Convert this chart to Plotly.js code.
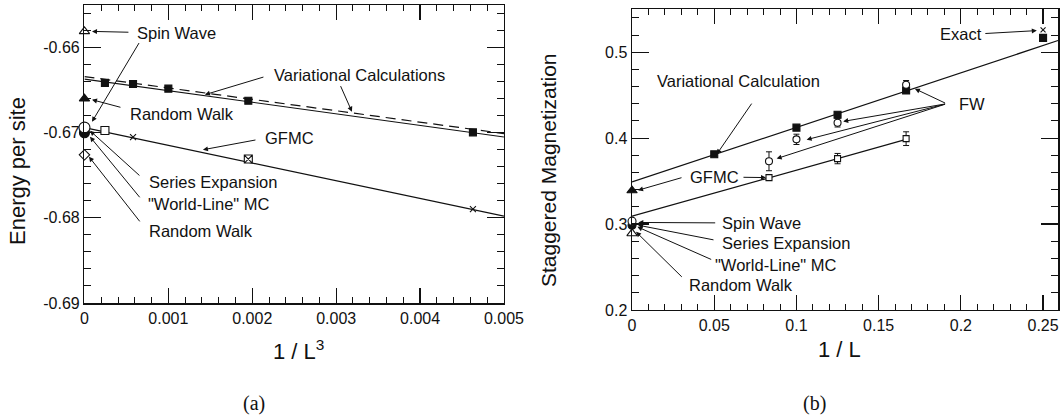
<!DOCTYPE html>
<html>
<head>
<meta charset="utf-8">
<script src="https://cdn.plot.ly/plotly-3.0.1.min.js"></script>
<style>html,body{margin:0;padding:0;background:#fff;}#chart{width:1061px;height:418px;}</style>
</head>
<body>
<div id="chart"></div>
<script>
// ---------- Panel (a): energy per site vs 1/L^3 ----------
const aVarX = [0.000244, 0.000579, 0.001, 0.001953, 0.00463];
const aVarY = [-0.66415, -0.66427, -0.66482, -0.66624, -0.66996];
const aVarFitX = [0, 0.005];
const aVarFitY = [-0.6637, -0.6705];
const aVarDashFitX = [0, 0.005];
const aVarDashFitY = [-0.6634, -0.6701];
const aGfmcFitX = [0, 0.005];
const aGfmcFitY = [-0.6694, -0.6798];
const aGfmcSqX = [0.000244];
const aGfmcSqY = [-0.66973];
const aGfmcCrossX = [0.000579, 0.00463];
const aGfmcCrossY = [-0.67051, -0.67898];
const aGfmcSqCrossX = [0.001953];
const aGfmcSqCrossY = [-0.67309];
const aSpinWave = -0.6581;
const aRandomWalkTri = -0.6660;
const aSeries = -0.6694;
const aWorldLine = -0.6700;
const aRandomWalkDia = -0.6726;
const aYTickAlias = {'−0.69': '-0.69', '−0.68': '-0.68', '−0.67': '-0.67', '−0.66': '-0.66'};

// ---------- Panel (b): staggered magnetization vs 1/L ----------
const bVarX = [0.05, 0.1, 0.125, 0.1667, 0.25];
const bVarY = [0.3812, 0.4122, 0.4273, 0.4555, 0.5167];
const bVarFitX = [0, 0.2591];
const bVarFitY = [0.349, 0.5136];
const bFwX = [0.0833, 0.1, 0.125, 0.1667];
const bFwY = [0.3731, 0.3986, 0.418, 0.4621];
const bFwErr = [0.011, 0.006, 0.005, 0.005];
const bGfmcX = [0.0833, 0.125, 0.1667];
const bGfmcY = [0.3541, 0.3762, 0.3994];
const bGfmcErr = [0.003, 0.006, 0.008];
const bGfmcFitX = [0, 0.1667];
const bGfmcFitY = [0.3092, 0.3985];
const bExactX = [0.25];
const bExactY = [0.526];
const bGfmcExtrap = 0.339;
const bSpinWave = 0.3034;
const bWorldLine = 0.2987;
const bRandomWalk = 0.2891;

const INK = '#111';
const FONT = 'Liberation Sans, Arial, Helvetica, sans-serif';

function line(x, y, xa, ya, dash) {
  return {x: x, y: y, xaxis: xa, yaxis: ya, type: 'scatter', mode: 'lines',
    line: {color: INK, width: 1.2, dash: dash || 'solid'}, hoverinfo: 'skip'};
}
function pts(x, y, xa, ya, symbol, size, fill, extra) {
  const t = {x: x, y: y, xaxis: xa, yaxis: ya, type: 'scatter', mode: 'markers', cliponaxis: false,
    marker: {symbol: symbol, size: size, color: fill, line: {color: INK, width: 1.1}}};
  return Object.assign(t, extra || {});
}
const W = '#ffffff';

const traces = [
  // empty traces that only carry the minor-tick overlay axes
  {x: [], y: [], xaxis: 'x3', yaxis: 'y3', type: 'scatter', mode: 'markers'},
  {x: [], y: [], xaxis: 'x4', yaxis: 'y4', type: 'scatter', mode: 'markers'},

  line(aVarFitX, aVarFitY, 'x', 'y'),
  line(aVarDashFitX, aVarDashFitY, 'x', 'y', '10px,6px'),
  line(aGfmcFitX, aGfmcFitY, 'x', 'y'),
  pts(aVarX, aVarY, 'x', 'y', 'square', 7, INK),
  pts(aGfmcSqX, aGfmcSqY, 'x', 'y', 'square', 8, W),
  pts(aGfmcCrossX, aGfmcCrossY, 'x', 'y', 'x-thin', 6, INK),
  pts(aGfmcSqCrossX, aGfmcSqCrossY, 'x', 'y', 'square-x', 8, W),
  pts([0], [aSpinWave], 'x', 'y', 'triangle-up', 9, W),
  pts([0], [aRandomWalkTri], 'x', 'y', 'triangle-up', 9, INK),
  pts([0], [aWorldLine], 'x', 'y', 'circle', 10, INK),
  pts([0], [aSeries], 'x', 'y', 'circle', 11, W),
  pts([0], [aRandomWalkDia], 'x', 'y', 'diamond', 8, W),

  line(bVarFitX, bVarFitY, 'x2', 'y2'),
  line(bGfmcFitX, bGfmcFitY, 'x2', 'y2'),
  pts(bVarX, bVarY, 'x2', 'y2', 'square', 7, INK),
  pts(bFwX, bFwY, 'x2', 'y2', 'circle', 7, W,
      {error_y: {type: 'data', array: bFwErr, visible: true, color: INK, thickness: 1, width: 3}}),
  pts(bGfmcX, bGfmcY, 'x2', 'y2', 'square', 6, W,
      {error_y: {type: 'data', array: bGfmcErr, visible: true, color: INK, thickness: 1, width: 3}}),
  pts(bExactX, bExactY, 'x2', 'y2', 'x-thin', 5, INK),
  pts([0], [bGfmcExtrap], 'x2', 'y2', 'triangle-up', 9, INK),
  pts([0], [bRandomWalk], 'x2', 'y2', 'triangle-up', 9, W),
  pts([0], [bWorldLine], 'x2', 'y2', 'circle', 8, INK),
  pts([0], [bSpinWave], 'x2', 'y2', 'circle', 8, W)
];

function axis(domain, range, tick0, dtick, major, anchor, alias) {
  const a = {
    domain: domain, range: range, anchor: anchor,
    tickmode: 'linear', tick0: tick0, dtick: dtick,
    ticks: 'inside', ticklen: major, tickwidth: 1.2, tickcolor: INK,
    showline: true, linecolor: INK, linewidth: 1.5, mirror: 'ticks',
    showgrid: false, zeroline: false, fixedrange: true,
    tickfont: {family: FONT, size: 16, color: INK}
  };
  if (alias) a.labelalias = alias;
  return a;
}
function minorAxis(over, anchor, domain, range, tick0, dtick, len) {
  return {
    overlaying: over, anchor: anchor, domain: domain, range: range,
    tickmode: 'linear', tick0: tick0, dtick: dtick,
    ticks: 'inside', ticklen: len, tickwidth: 1, tickcolor: INK,
    showticklabels: false, showline: true, linecolor: INK, linewidth: 1.5, mirror: 'ticks',
    showgrid: false, zeroline: false, fixedrange: true
  };
}

const aXDom = [0.0796, 0.4750], aYDom = [0.2751, 0.9880];
const bXDom = [0.5957, 0.9972], bYDom = [0.2584, 0.9778];
const aXRange = [0, 0.005], aYRange = [-0.69, -0.655];
const bXRange = [0, 0.2591], bYRange = [0.2, 0.55];

const layout = {
  width: 1061, height: 418,
  margin: {l: 0, r: 0, t: 0, b: 0},
  paper_bgcolor: '#fff', plot_bgcolor: '#fff',
  showlegend: false,
  xaxis: axis(aXDom, aXRange, 0, 0.001, 15, 'y'),
  yaxis: axis(aYDom, aYRange, -0.69, 0.01, 17, 'x', aYTickAlias),
  xaxis2: axis(bXDom, bXRange, 0, 0.05, 15, 'y2'),
  yaxis2: axis(bYDom, bYRange, 0.2, 0.1, 17, 'x2'),
  xaxis3: minorAxis('x', 'y3', aXDom, aXRange, 0, 0.0002, 6),
  yaxis3: minorAxis('y', 'x3', aYDom, aYRange, -0.69, 0.002, 7),
  xaxis4: minorAxis('x2', 'y4', bXDom, bXRange, 0, 0.01, 6),
  yaxis4: minorAxis('y2', 'x4', bYDom, bYRange, 0.2, 0.02, 7),
  annotations: []
};

function label(text, x, y, xr, yr) {
  layout.annotations.push({text: text, x: x, y: y, xref: xr, yref: yr, showarrow: false,
    xanchor: 'left', yanchor: 'middle', font: {family: FONT, size: 16.5, color: INK}});
}
function arrow(tx, ty, hx, hy, xr, yr) {
  layout.annotations.push({text: '', x: hx, y: hy, ax: tx, ay: ty, xref: xr, yref: yr, axref: xr, ayref: yr,
    showarrow: true, arrowhead: 2, arrowsize: 1, arrowwidth: 1, arrowcolor: INK, standoff: 0, startstandoff: 0});
}

// panel (a) labels
label('Spin Wave', 0.000602, -0.65824, 'x', 'y');
label('Random Walk', 0.000519, -0.66776, 'x', 'y');
label('Variational Calculations', 0.002231, -0.66318, 'x', 'y');
label('GFMC', 0.002128, -0.67059, 'x', 'y');
label('Series Expansion', 0.000745, -0.67576, 'x', 'y');
label('"World-Line" MC', 0.000729, -0.67835, 'x', 'y');
label('Random Walk', 0.000745, -0.68153, 'x', 'y');
arrow(0.000542, -0.6582, 0.00009, -0.6581, 'x', 'y');
arrow(0.000661, -0.65929, 0.00009, -0.66871, 'x', 'y');
arrow(0.000447, -0.66706, 0.00009, -0.66612, 'x', 'y');
arrow(0.002151, -0.66341, 0.001436, -0.66553, 'x', 'y');
arrow(0.003045, -0.66435, 0.003188, -0.66753, 'x', 'y');
arrow(0.002056, -0.67082, 0.001412, -0.67200, 'x', 'y');
arrow(0.000673, -0.67518, 0.000066, -0.66976, 'x', 'y');
arrow(0.000673, -0.67776, 0.000066, -0.67047, 'x', 'y');
arrow(0.000673, -0.68059, 0.000054, -0.67282, 'x', 'y');

// panel (b) labels
label('Variational Calculation', 0.01398, 0.46596, 'x2', 'y2');
label('GFMC', 0.03423, 0.35481, 'x2', 'y2');
label('Spin Wave', 0.0535, 0.30104, 'x2', 'y2');
label('Series Expansion', 0.0535, 0.27781, 'x2', 'y2');
label('"World-Line" MC', 0.04942, 0.25226, 'x2', 'y2');
label('Random Walk', 0.03325, 0.22904, 'x2', 'y2');
label('FW', 0.19739, 0.44006, 'x2', 'y2');
label('Exact', 0.18602, 0.52135, 'x2', 'y2');
arrow(0.07337, 0.44192, 0.05149, 0.38118, 'x2', 'y2');
arrow(0.06687, 0.35447, 0.08146, 0.35412, 'x2', 'y2');
arrow(0.0310, 0.35447, 0.003647, 0.33937, 'x2', 'y2');
arrow(0.05149, 0.30139, 0.00383, 0.30186, 'x2', 'y2');
arrow(0.05046, 0.2813, 0.003647, 0.29872, 'x2', 'y2');
arrow(0.04906, 0.25807, 0.003222, 0.29675, 'x2', 'y2');
arrow(0.03118, 0.23682, 0.002432, 0.29094, 'x2', 'y2');
arrow(0.19131, 0.44006, 0.17204, 0.45749, 'x2', 'y2');
arrow(0.19131, 0.44006, 0.12845, 0.4195, 'x2', 'y2');
arrow(0.19131, 0.44006, 0.1062, 0.39825, 'x2', 'y2');
arrow(0.19131, 0.44006, 0.08796, 0.37619, 'x2', 'y2');
arrow(0.21398, 0.5217, 0.2462, 0.52519, 'x2', 'y2');

// axis titles and panel captions
function ptext(text, x, y, size, angle, family) {
  layout.annotations.push({text: text, x: x, y: y, xref: 'paper', yref: 'paper', showarrow: false,
    xanchor: 'center', yanchor: 'middle', textangle: angle || 0,
    font: {family: family || FONT, size: size, color: INK}});
}
ptext('Energy per site', 0.017, 0.591, 22, -90);
ptext('1 / L<sup>3</sup>', 0.2809, 0.1627, 22);
ptext('Staggered Magnetization', 0.5165, 0.5933, 21, -90);
ptext('1 / L', 0.7917, 0.1627, 22);
ptext('(a)', 0.2394, 0.0335, 20, 0, 'Liberation Serif, DejaVu Serif, serif');
ptext('(b)', 0.768, 0.0335, 20, 0, 'Liberation Serif, DejaVu Serif, serif');

Plotly.newPlot('chart', traces, layout, {displayModeBar: false, staticPlot: true});
</script>
</body>
</html>
